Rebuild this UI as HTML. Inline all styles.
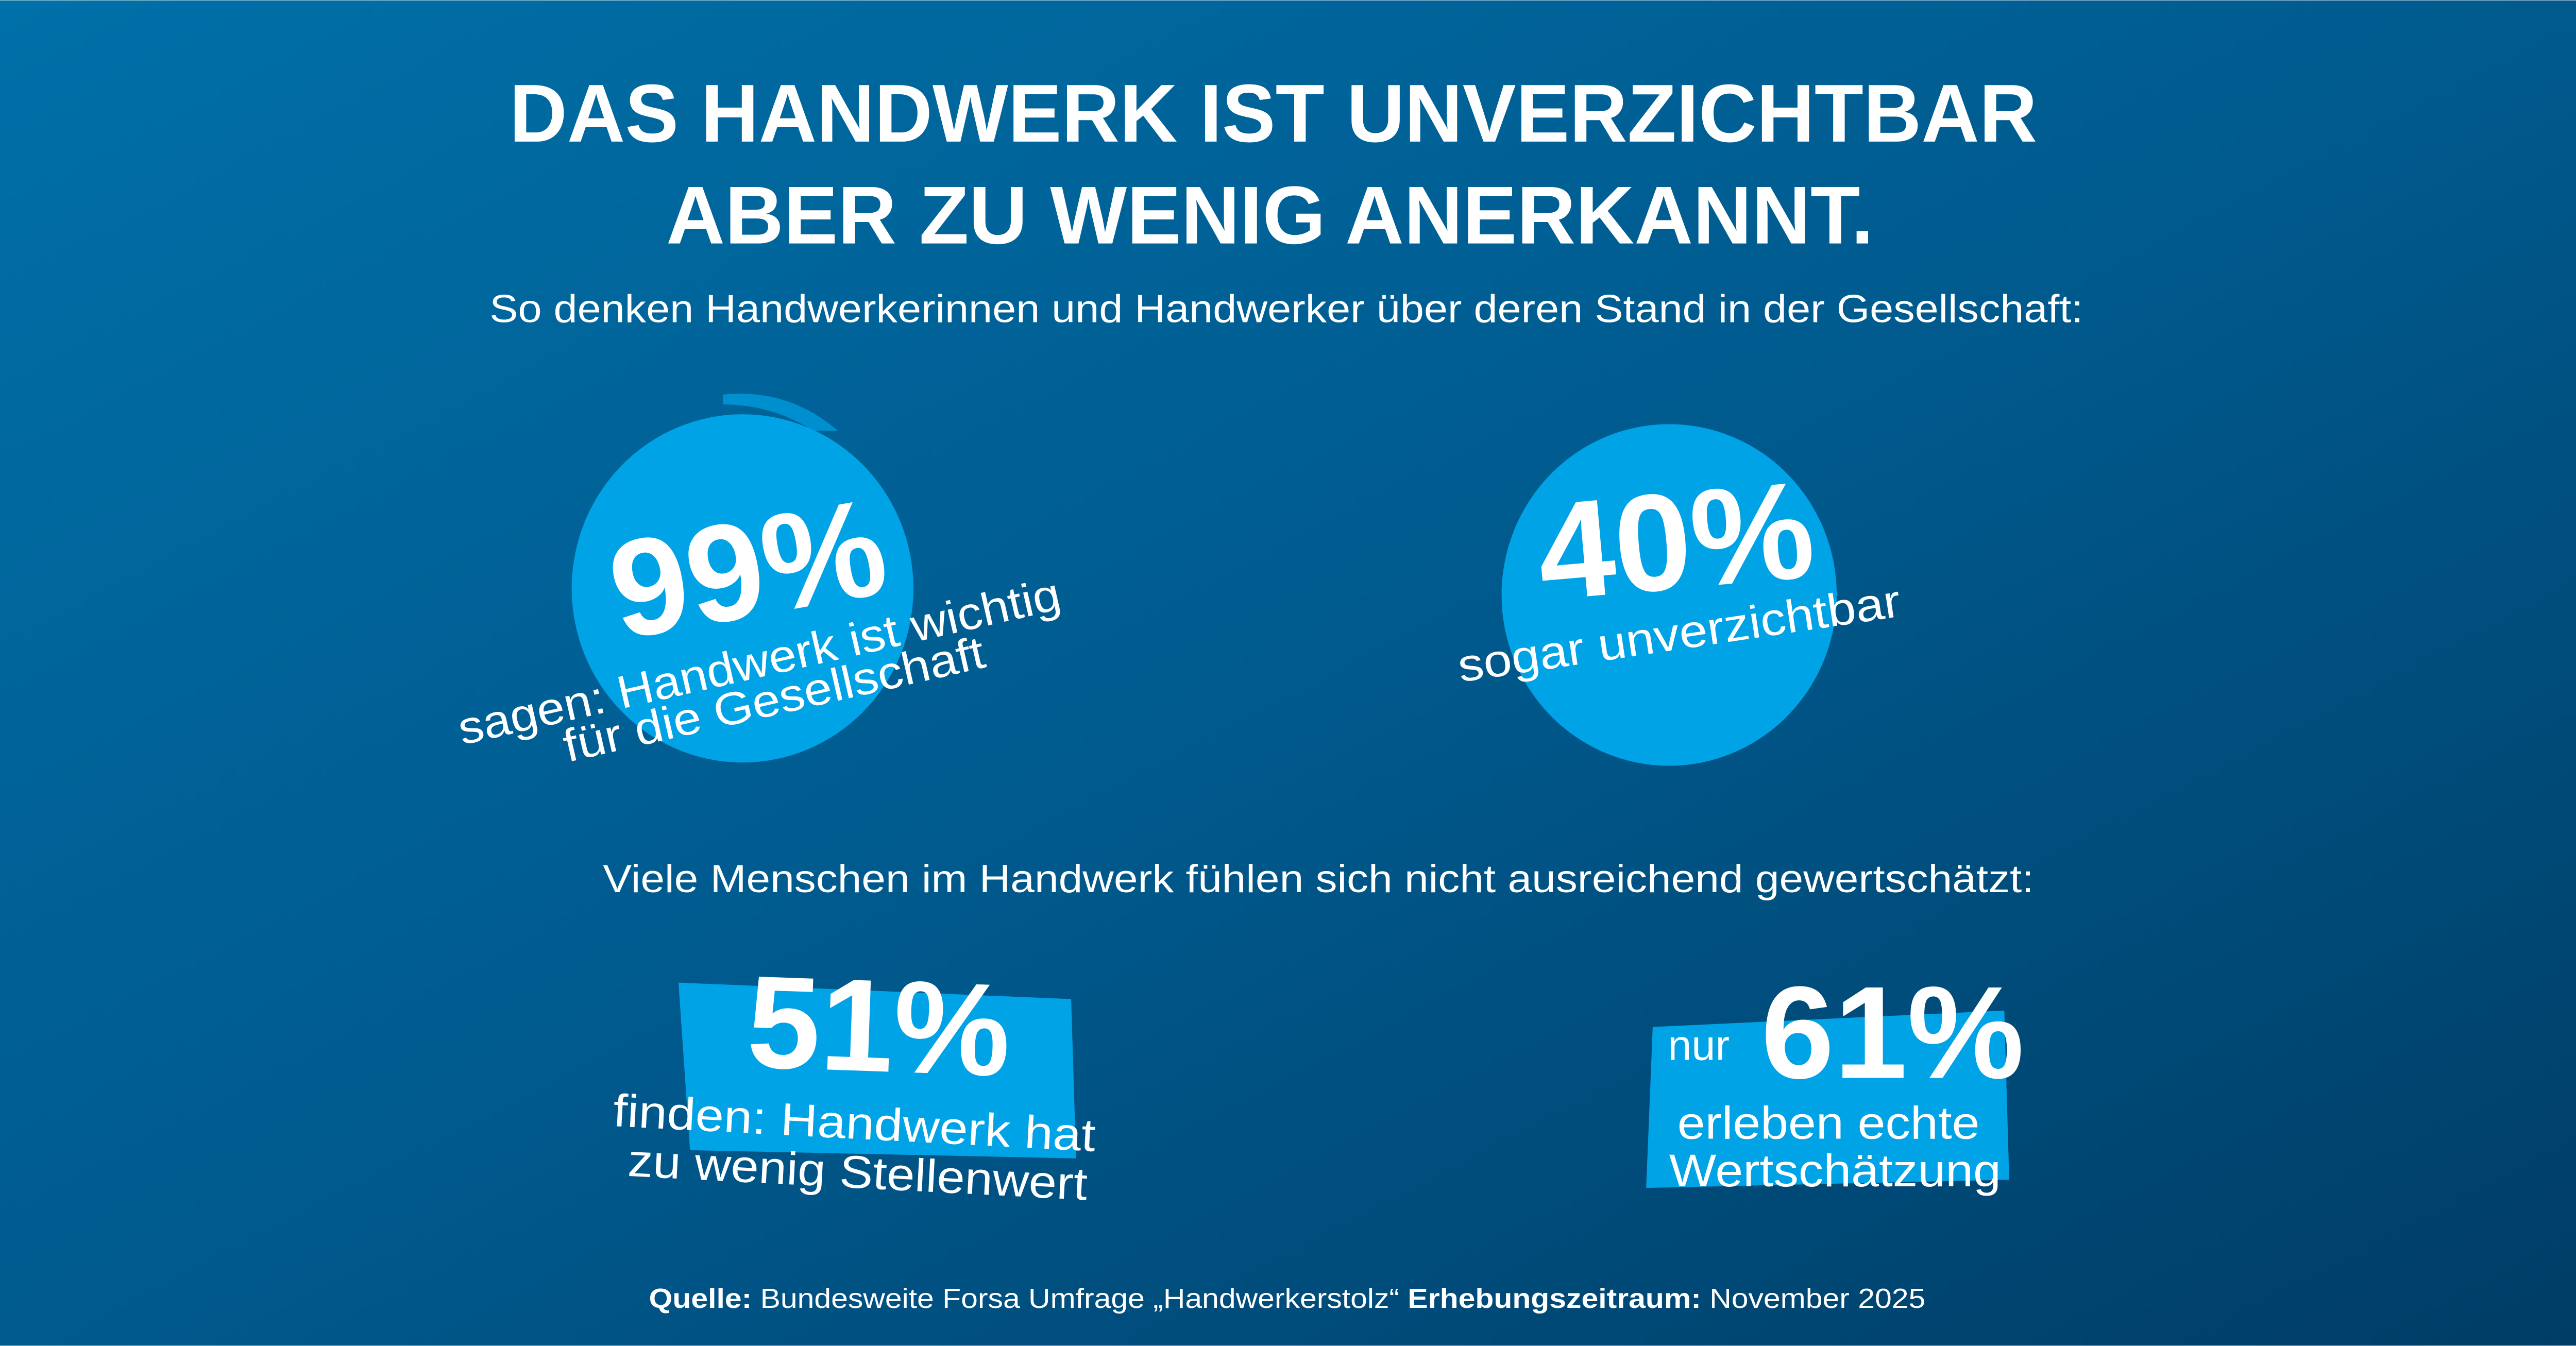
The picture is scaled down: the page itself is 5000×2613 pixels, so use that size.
<!DOCTYPE html>
<html><head><meta charset="utf-8"><style>html,body{margin:0;padding:0}svg{display:block}</style></head>
<body>
<svg width="5000" height="2613" viewBox="0 0 1568 819" xmlns="http://www.w3.org/2000/svg" font-family="Liberation Sans, sans-serif">
<defs>
<linearGradient id="bg" x1="0" y1="0" x2="1" y2="1">
<stop offset="0" stop-color="#0070a8"/><stop offset="0.5" stop-color="#005a8e"/><stop offset="1" stop-color="#003d66"/>
</linearGradient>
</defs>
<rect width="1568" height="819" fill="url(#bg)"/>
<g fill="#fff" font-weight="bold" text-anchor="middle">
<text x="775" y="86" font-size="50" textLength="930" lengthAdjust="spacingAndGlyphs">DAS HANDWERK IST UNVERZICHTBAR</text>
<text x="773" y="148" font-size="50" textLength="735" lengthAdjust="spacingAndGlyphs">ABER ZU WENIG ANERKANNT.</text>
</g>
<g fill="#fff" font-size="24">
<text x="298" y="196" textLength="970" lengthAdjust="spacingAndGlyphs">So denken Handwerkerinnen und Handwerker über deren Stand in der Gesellschaft:</text>
<text x="367" y="543" textLength="871" lengthAdjust="spacingAndGlyphs">Viele Menschen im Handwerk fühlen sich nicht ausreichend gewertschätzt:</text>
</g>
<g fill="#00a3e6">
<ellipse cx="452" cy="358" rx="104" ry="106"/>
<path d="M440 240 Q480 236 510 262 L495 262 Q470 246 440 246Z" opacity="0.7"/>
<ellipse cx="1016" cy="362" rx="102" ry="104"/>
<path d="M413 598 L652 608 L655 705 L420 700 Z"/>
<path d="M1006 625 L1220 615 L1223 718 L1002 723 Z"/>
</g>
<g fill="#fff" font-weight="bold" text-anchor="middle">
<text x="455" y="375" font-size="84" transform="rotate(-10 455 345)">99%</text>
<text x="1020" y="358" font-size="84" transform="rotate(-5 1020 330)">40%</text>
<text x="535" y="652" font-size="80" transform="rotate(2 535 625)">51%</text>
<text x="1152" y="656" font-size="80">61%</text>
</g>
<g fill="#fff" font-size="28" text-anchor="middle">
<text x="462" y="412" transform="rotate(-12.8 462 402)" textLength="375" lengthAdjust="spacingAndGlyphs">sagen: Handwerk ist wichtig</text>
<text x="471" y="435" transform="rotate(-12.8 471 425)" textLength="262" lengthAdjust="spacingAndGlyphs">für die Gesellschaft</text>
<text x="1022" y="395" transform="rotate(-8.5 1022 385)" textLength="272" lengthAdjust="spacingAndGlyphs">sogar unverzichtbar</text>
<text x="520" y="693" transform="rotate(3 520 685)" textLength="294" lengthAdjust="spacingAndGlyphs">finden: Handwerk hat</text>
<text x="522" y="723" transform="rotate(3 522 715)" textLength="280" lengthAdjust="spacingAndGlyphs">zu wenig Stellenwert</text>
<text x="1113" y="693" textLength="184" lengthAdjust="spacingAndGlyphs">erleben echte</text>
<text x="1117" y="722" textLength="202" lengthAdjust="spacingAndGlyphs">Wertschätzung</text>
<text x="1034" y="645" font-size="26">nur</text>
</g>
<text x="395" y="796" fill="#fff" font-size="17" textLength="777" lengthAdjust="spacingAndGlyphs"><tspan font-weight="bold">Quelle:</tspan> Bundesweite Forsa Umfrage „Handwerkerstolz“ <tspan font-weight="bold">Erhebungszeitraum:</tspan> November 2025</text>
</svg>
</body></html>
